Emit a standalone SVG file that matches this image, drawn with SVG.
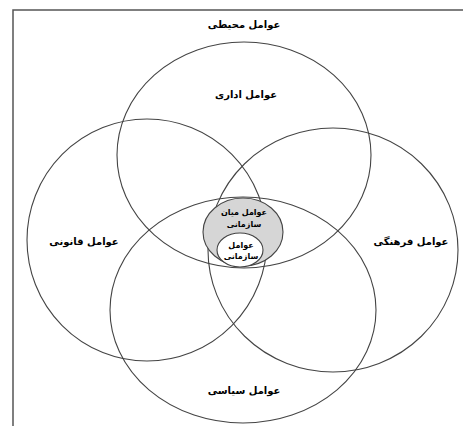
<svg xmlns="http://www.w3.org/2000/svg" width="463" height="426" viewBox="0 0 463 426">
<style>
.c{fill:none;stroke:#444;stroke-width:1.1}
.t{font-family:"DejaVu Sans",sans-serif;font-weight:bold;font-size:10px;fill:#000;text-anchor:middle;direction:rtl}
.s{font-size:8px}
</style>
<rect x="0" y="0" width="463" height="426" fill="#fff"/>
<g id="frame"><path d="M13,426 V10 H463" fill="none" stroke="#555" stroke-width="1.5"/></g>
<g id="env"><text class="t" x="244" y="28">عوامل محیطی</text></g>
<g id="admin"><ellipse class="c" cx="244" cy="155" rx="127" ry="113"/><text class="t" x="246" y="98">عوامل اداری</text></g>
<g id="legal"><ellipse class="c" cx="147" cy="240" rx="120" ry="121"/><text class="t" x="84" y="245">عوامل قانونی</text></g>
<g id="cultural"><ellipse class="c" cx="333" cy="250" rx="125" ry="122"/><text class="t" x="411" y="245">عوامل فرهنگی</text></g>
<g id="political"><ellipse class="c" cx="243" cy="310" rx="133" ry="113"/><text class="t" x="244" y="394">عوامل سیاسی</text></g>
<g id="inter"><ellipse cx="243" cy="232" rx="40" ry="34" fill="#d6d6d6" stroke="#444" stroke-width="1.1"/><text class="t s" x="244" y="215">عوامل میان</text><text class="t s" x="244" y="227">سازمانی</text></g>
<g id="org"><ellipse cx="240" cy="250" rx="23" ry="17" fill="#fff" stroke="#444" stroke-width="1.1"/><text class="t s" x="241" y="248">عوامل</text><text class="t s" x="241" y="259">سازمانی</text></g>
<g id="connectors"></g>
</svg>
